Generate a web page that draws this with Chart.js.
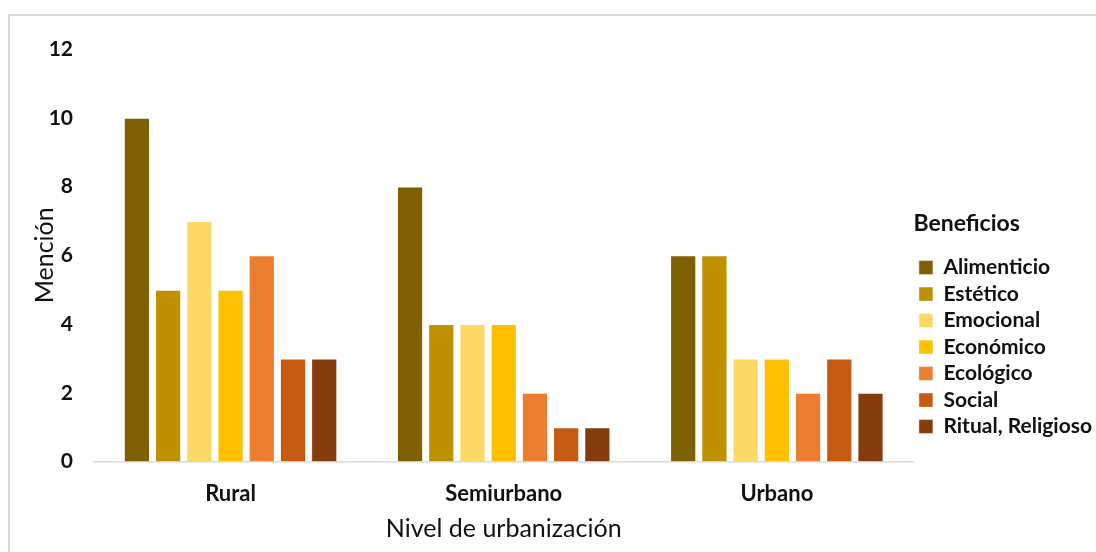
<!DOCTYPE html>
<html>
<head>
<meta charset="utf-8">
<script src="https://cdn.jsdelivr.net/npm/chart.js@4"></script>
<style>
  html, body { margin: 0; padding: 0; background: #fff; width: 1096px; height: 552px; overflow: hidden; }
  #frame { position: absolute; left: 8px; top: 14px; width: 1200px; height: 600px; border: 2px solid #d9d9d9; box-sizing: border-box; }
  #wrap { position: absolute; left: 0; top: 0; width: 1102px; height: 552px; }
</style>
</head>
<body>
<div id="frame"></div>
<div id="wrap"><canvas id="c"></canvas></div>
<script>
// Urbanization levels on the x axis
const categories = ['Rural', 'Semiurbano', 'Urbano'];

// Mentions of each benefit per urbanization level
const alimenticio = [10, 8, 6];
const estetico    = [5, 4, 6];
const emocional   = [7, 4, 3];
const economico   = [5, 4, 3];
const ecologico   = [6, 2, 2];
const social      = [3, 1, 3];
const ritual      = [3, 1, 2];

const seriesNames  = ['Alimenticio', 'Estético', 'Emocional', 'Económico', 'Ecológico', 'Social', 'Ritual, Religioso'];
const seriesValues = [alimenticio, estetico, emocional, economico, ecologico, social, ritual];
const seriesColors = ['#7f6000', '#bf9000', '#ffd966', '#ffc000', '#ed7d31', '#c55a11', '#843c0c'];

const yTicks = [0, 2, 4, 6, 8, 10, 12];

const FONT = 'Lato, "Open Sans", sans-serif';

const datasets = seriesNames.map((name, i) => ({
  label: name,
  data: seriesValues[i],
  backgroundColor: seriesColors[i],
  borderColor: 'rgba(255,255,255,0.45)',
  borderWidth: 1,
  categoryPercentage: 0.8,
  barPercentage: 0.84
}));

new Chart(document.getElementById('c'), {
  type: 'bar',
  data: { labels: categories, datasets },
  options: {
    responsive: true,
    maintainAspectRatio: false,
    animation: false,
    layout: { padding: { top: 49, left: 20, right: 0, bottom: 8 } },
    plugins: {
      tooltip: { enabled: false },
      legend: {
        position: 'right',
        align: 'start',
        title: {
          display: true,
          text: 'Beneficios',
          position: 'start',
          color: '#111',
          font: { family: FONT, size: 23, weight: 'bold' },
          padding: { top: 163, bottom: 12 }
        },
        labels: {
          color: '#111',
          font: { family: FONT, size: 21, weight: 'bold' },
          boxWidth: 14,
          boxHeight: 14,
          padding: 5.5
        }
      }
    },
    scales: {
      x: {
        grid: { display: false, drawTicks: false },
        border: { display: true, color: '#d9d9d9', width: 1.5 },
        ticks: {
          color: '#111',
          padding: 19,
          font: { family: FONT, size: 22, weight: 'bold' }
        },
        title: {
          display: true,
          text: 'Nivel de urbanización',
          color: '#111',
          font: { family: FONT, size: 25, weight: 'normal' },
          padding: { top: -12, bottom: 0 }
        }
      },
      y: {
        min: 0,
        max: 12,
        afterBuildTicks: (scale) => { scale.ticks = yTicks.map(v => ({ value: v })); },
        afterFit: (scale) => { scale.width = 74; },
        grid: { display: false, drawTicks: false },
        border: { display: false },
        ticks: {
          color: '#111',
          padding: 21,
          font: { family: FONT, size: 21, weight: 'bold' }
        },
        title: {
          display: true,
          text: 'Mención',
          color: '#111',
          font: { family: FONT, size: 25, weight: 'normal' },
          padding: { top: 10, bottom: 0 }
        }
      }
    }
  }
});
</script>
</body>
</html>
